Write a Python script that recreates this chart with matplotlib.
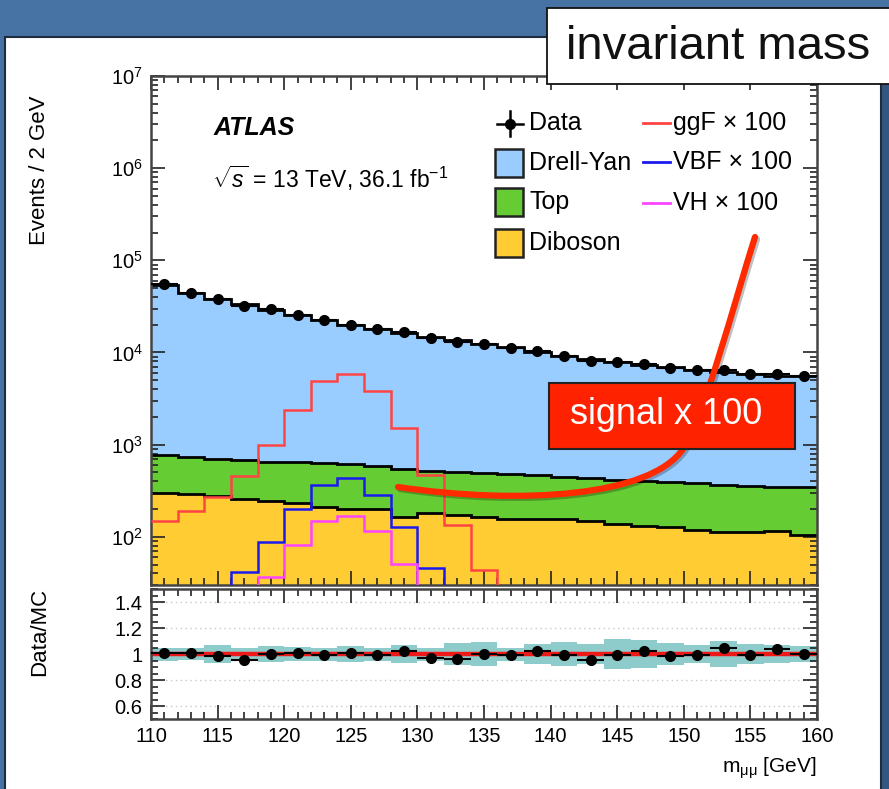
import numpy as np
import matplotlib
matplotlib.use('Agg')
import matplotlib.pyplot as plt
from matplotlib.patches import Rectangle, PathPatch
from matplotlib.path import Path
from matplotlib.lines import Line2D
from matplotlib.ticker import MultipleLocator, LogLocator, NullFormatter, FixedLocator
import matplotlib.patheffects as pe

plt.rcParams['font.family'] = ['Liberation Sans', 'DejaVu Sans']
plt.rcParams['mathtext.fontset'] = 'custom'
plt.rcParams['mathtext.rm'] = 'Liberation Sans'
plt.rcParams['mathtext.it'] = 'Liberation Sans:italic'
plt.rcParams['mathtext.bf'] = 'Liberation Sans:bold'

# binning: m_mumu 110-160 GeV, 2 GeV bins
edges = np.arange(110, 162, 2)
centers = edges[:-1] + 1

# observed events per bin
data = [54730, 44420, 37610, 31890, 29290, 25830, 22490, 20050, 17910, 16520,
        14360, 12990, 12300, 11290, 10250, 9070, 8100, 7900, 7510, 6830,
        6460, 6470, 5860, 5840, 5500]
# backgrounds (stacked)
diboson = [302, 292, 274, 257, 246, 232, 210, 200, 200, 166, 181, 173, 163,
           157, 157, 156, 149, 137, 132, 127, 119, 114, 114, 115, 105]
top = [472, 451, 427, 416, 410, 414, 430, 414, 393, 380, 343, 338, 331,
       325, 310, 295, 288, 278, 270, 268, 263, 252, 246, 236, 238]
drell_yan = [53530, 43460, 37600, 32830, 28540, 25050, 21960, 19340, 17410,
             15650, 14280, 12990, 11810, 10870, 9530, 8670, 8070, 7530, 6930,
             6530, 6150, 5800, 5530, 5270, 5160]
# signals x 100 (bins under 30 fall below the axis)
ggf = [150, 192, 270, 460, 1000, 2400, 4900, 5900, 3800, 1520, 465, 134, 44,
       10, 10, 10, 10, 10, 10, 10, 10, 10, 10, 10, 10]
vbf = [10, 10, 10, 41, 87, 200, 366, 433, 286, 127, 46, 10, 10,
       10, 10, 10, 10, 10, 10, 10, 10, 10, 10, 10, 10]
vh = [10, 10, 10, 10, 37, 82, 147, 169, 117, 51, 10, 10, 10,
      10, 10, 10, 10, 10, 10, 10, 10, 10, 10, 10, 10]
# relative MC uncertainty (half width of the band)
mc_unc = [0.05, 0.045, 0.07, 0.05, 0.065, 0.055, 0.05, 0.06, 0.05, 0.07, 0.05,
          0.085, 0.09, 0.05, 0.08, 0.095, 0.075, 0.115, 0.11, 0.085, 0.07,
          0.1, 0.075, 0.07, 0.06]

c_dy, c_top, c_vv = '#99ccff', '#66cc33', '#ffcc33'
c_ggf, c_vbf, c_vh = '#ff4444', '#1a1aee', '#ff44ff'

W, H = 889., 789.
def fx(x):
    return x / W
def fy(y):
    return 1 - y / H

fig = plt.figure(figsize=(8.89, 7.89), dpi=100)
fig.patch.set_facecolor('#4673a3')
fig.add_artist(Rectangle((fx(881), 0), fx(889) - fx(881), fy(37), transform=fig.transFigure,
                         fc='#35577f', ec='none', zorder=-3))
fig.add_artist(Rectangle((fx(5), -0.01), fx(881) - fx(5), fy(37) + 0.01, transform=fig.transFigure,
                         fc='white', ec='#1e2c40', lw=1.5, zorder=-2))

diboson = np.array(diboson, float)
top = np.array(top, float)
drell_yan = np.array(drell_yan, float)
data = np.array(data, float)
mc_unc = np.array(mc_unc)
cum1 = diboson
cum2 = diboson + top
cum3 = cum2 + drell_yan

# ---------------- main panel
ax = fig.add_axes([fx(151), fy(585), fx(817) - fx(151), fy(76) - fy(585)])
ax.set_yscale('log')
ax.stairs(cum3, edges, baseline=cum2, fill=True, color=c_dy, zorder=1)
ax.stairs(cum2, edges, baseline=cum1, fill=True, color=c_top, zorder=1)
ax.stairs(cum1, edges, baseline=1, fill=True, color=c_vv, zorder=1)
for c in (cum1, cum2, cum3):
    ax.stairs(c, edges, baseline=None, color='k', lw=2, zorder=2)
ax.stairs(ggf, edges, baseline=None, color=c_ggf, lw=1.8, zorder=3)
ax.stairs(vbf, edges, baseline=None, color=c_vbf, lw=1.8, zorder=3)
ax.stairs(vh, edges, baseline=None, color=c_vh, lw=1.8, zorder=3)
ax.errorbar(centers, data, xerr=1, yerr=np.sqrt(data), fmt='o', color='k',
            ms=7, lw=1.5, zorder=4)
ax.set_xlim(110, 160)
ax.set_ylim(30, 1e7)
ax.xaxis.set_major_locator(MultipleLocator(5))
ax.xaxis.set_minor_locator(MultipleLocator(1))
ax.yaxis.set_major_locator(LogLocator(base=10, numticks=20))
ax.yaxis.set_minor_locator(LogLocator(base=10, subs=np.arange(2, 10), numticks=20))
ax.yaxis.set_minor_formatter(NullFormatter())
ax.tick_params(which='both', direction='in', top=True, right=True, width=1.2, color='#222')
ax.tick_params(which='major', length=10, labelsize=14.5, pad=6)
ax.tick_params(which='minor', length=5)
ax.tick_params(axis='x', labelbottom=False)
for s in ax.spines.values():
    s.set_linewidth(1.8)
    s.set_color('#444')

fig.text(fx(40), fy(170), 'Events / 2 GeV', rotation=90, ha='center', va='center', fontsize=16)
fig.text(fx(214), fy(128), 'ATLAS', fontweight='bold', fontstyle='italic', fontsize=18, va='center')
fig.text(fx(212), fy(178), r'$\sqrt{s}$ = 13 TeV, 36.1 fb$^{\mathregular{-1}}$', fontsize=16.5, va='center')

# legend, drawn by hand
fig.add_artist(Line2D([fx(497), fx(523)], [fy(123.5)] * 2, color='k', lw=1.8, transform=fig.transFigure))
fig.add_artist(Line2D([fx(509.5)] * 2, [fy(111), fy(136)], color='k', lw=1.8, transform=fig.transFigure))
fig.add_artist(Line2D([fx(509.5)], [fy(123.5)], marker='o', ms=7, color='k', transform=fig.transFigure))
for yc, col in ((162.5, c_dy), (202.5, c_top), (242.5, c_vv)):
    fig.add_artist(Rectangle((fx(495.5), fy(yc + 14)), fx(522.5) - fx(495.5), fy(yc - 14) - fy(yc + 14),
                             transform=fig.transFigure, fc=col, ec='#222', lw=1.8))
for yc, txt in ((123.5, 'Data'), (162.5, 'Drell-Yan'), (202, 'Top'), (243, 'Diboson')):
    fig.text(fx(529), fy(yc), txt, fontsize=18, va='center')
for yc, col, txt in ((122.7, c_ggf, 'ggF \u00d7 100'), (162, c_vbf, 'VBF \u00d7 100'),
                     (202.7, c_vh, 'VH \u00d7 100')):
    fig.add_artist(Line2D([fx(643), fx(670)], [fy(yc)] * 2, color=col, lw=2, transform=fig.transFigure))
    fig.text(fx(673), fy(yc), txt, fontsize=18, va='center')

# ---------------- ratio panel
rax = fig.add_axes([fx(151), fy(719), fx(817) - fx(151), fy(589) - fy(719)])
mc = cum3
ratio = data / mc
ratio_err = np.sqrt(data) / mc
rax.stairs(1 + mc_unc, edges, baseline=1 - mc_unc, fill=True, color='#8ecbcb', zorder=1)
for g in (0.6, 0.8, 1.2, 1.4):
    rax.axhline(g, color='#c8c8c8', lw=1, ls=(0, (1, 2.5)), zorder=0)
rax.axhline(1, color='#ee1a1a', lw=3.2, zorder=2)
rax.errorbar(centers, ratio, xerr=1, yerr=ratio_err, fmt='o', color='k', ms=7, lw=1.5, zorder=3)
rax.set_xlim(110, 160)
rax.set_ylim(0.5, 1.5)
rax.xaxis.set_major_locator(MultipleLocator(5))
rax.xaxis.set_minor_locator(MultipleLocator(1))
rax.yaxis.set_major_locator(FixedLocator([0.6, 0.8, 1.0, 1.2, 1.4]))
rax.yaxis.set_minor_locator(MultipleLocator(0.05))
rax.set_yticklabels(['0.6', '0.8', '1', '1.2', '1.4'])
rax.tick_params(which='both', direction='in', top=True, right=True, width=1.2, color='#222')
rax.tick_params(which='major', length=10, labelsize=14.5, pad=6)
rax.tick_params(which='minor', length=5)
for s in rax.spines.values():
    s.set_linewidth(1.8)
    s.set_color('#444')

fig.text(fx(40), fy(632), 'Data/MC', rotation=90, ha='center', va='center', fontsize=16)
fig.text(fx(817), fy(768), r'm$_{\mathregular{\mu\mu}}$ [GeV]', ha='right', va='center', fontsize=15)

# ---------------- slide annotations
fig.add_artist(Rectangle((fx(547), fy(84)), fx(900) - fx(547), fy(8) - fy(84), transform=fig.transFigure,
                         fc='white', ec='#111', lw=1.3, zorder=6))
fig.text(fx(566), fy(47), 'invariant mass', fontsize=34, va='center', color='#111', zorder=7)

pts = [(398, 487), (520, 505), (650, 497), (683, 449),
       (703, 421), (735, 300), (755, 237)]
codes = [Path.MOVETO] + [Path.CURVE4] * 6
curve = Path([(fx(x), fy(y)) for x, y in pts], codes)
fig.add_artist(PathPatch(curve, transform=fig.transFigure, fill=False, ec='#ff2a00', lw=4.5,
                         capstyle='round', zorder=5,
                         path_effects=[pe.SimpleLineShadow(offset=(1.5, -1.5), alpha=0.25), pe.Normal()]))
fig.add_artist(Rectangle((fx(549), fy(449)), fx(795) - fx(549), fy(383) - fy(449), transform=fig.transFigure,
                         fc='#ff2200', ec='#222', lw=1.5, zorder=6))
fig.text(fx(666), fy(415), 'signal x 100', fontsize=26, color='white', ha='center', va='center', zorder=7)

fig.savefig('out.png', dpi=100, facecolor=fig.get_facecolor())
